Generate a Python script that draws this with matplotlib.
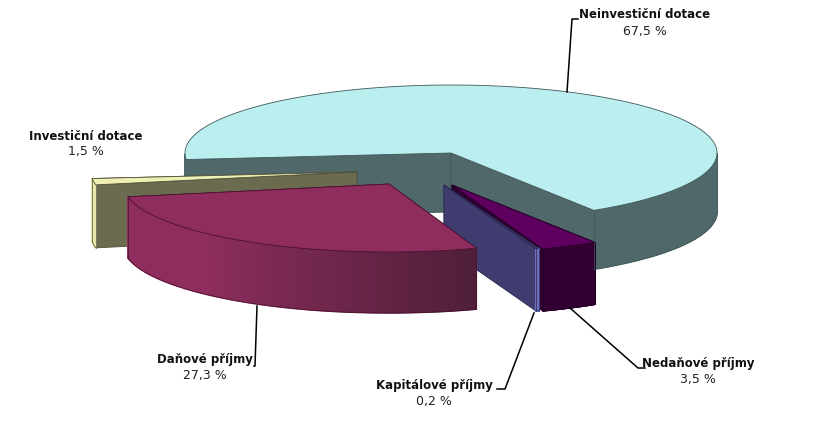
import numpy as np
import matplotlib
matplotlib.use("Agg")
import matplotlib.pyplot as plt
from matplotlib.patches import Polygon

# Data
labels = ["Neinvestiční dotace", "Nedaňové příjmy", "Kapitálové příjmy", "Daňové příjmy", "Investiční dotace"]
values = [67.5, 3.5, 0.2, 27.3, 1.5]
value_texts = ["67,5 %", "3,5 %", "0,2 %", "27,3 %", "1,5 %"]

# Pie layout (pixels)
cx, cy = 451, 153
rx, ry = 266, 68
start_angle = 185.5
offsets = [(0, 0), (1, 32), (-7, 32), (-62, 31), (-94, 19)]
depths = [59, 62, 62, 61, 63]
twists = [0, 0, 1.0, 0, 0]
draw_order = [0, 4, 1, 2, 3]

# Colours
top_colors = ["#bbeeee", "#5f0060", "#3f3d70", "#8f2e5e", "#efeeb4"]
face_colors = ["#50686a", "#2e0033", "#3f3d70", "#8f2e5e", "#6b6b50"]
rim_right = ["#50686a", "#330033", "#6f6fc0", "#4f1f38", "#e8e6a8"]
rim_left = ["#50686a", "#330033", "#6f6fc0", "#8f2e5e", "#e8e6a8"]
edge_colors = ["#40585a", "#200020", "#2a2850", "#4a1030", "#505038"]

# Labels and leader lines (pixels)
label_pos = [(645, 15), (698, 364), (434, 386), (205, 360), (86, 136)]
leaders = [
    [(567, 92), (572, 19), (578, 19)],
    [(570, 308), (638, 368), (645, 368)],
    [(534, 313), (505, 389), (497, 389)],
    [(257, 306), (255, 366), (254, 366)],
    None,
]

fig = plt.figure(figsize=(8.26, 4.38), dpi=100)
ax = fig.add_axes([0, 0, 1, 1])
ax.set_xlim(0, 826)
ax.set_ylim(438, 0)
ax.axis("off")


def mix(c1, c2, f):
    a = np.array(matplotlib.colors.to_rgb(c1))
    b = np.array(matplotlib.colors.to_rgb(c2))
    return tuple(a + (b - a) * f)


# Angles come from the values, going clockwise
sweeps = np.array(values) / sum(values) * 360
ends = start_angle - np.cumsum(sweeps)
starts = ends + sweeps

for i in draw_order:
    ax0 = cx + offsets[i][0]
    ay0 = cy + offsets[i][1]
    d = depths[i]
    edge = edge_colors[i]
    t = np.radians(np.linspace(starts[i], ends[i], 200) + twists[i])
    x = ax0 + rx * np.cos(t)
    y = ay0 - ry * np.sin(t)

    # Radial side faces, the one nearer the viewer last
    for k in sorted((0, -1), key=lambda n: y[n]):
        side = [(ax0, ay0), (x[k], y[k]), (x[k], y[k] + d), (ax0, ay0 + d)]
        ax.add_patch(Polygon(side, closed=True, fc=face_colors[i], ec=edge, lw=0.6))

    # Outer rim, only the part that faces the viewer, dark on the right
    front = np.sin(t) <= 0
    for j in range(len(t) - 1):
        if front[j] and front[j + 1]:
            f = min(1.0, j / (len(t) - 2) / 0.65)
            c = mix(rim_right[i], rim_left[i], f)
            strip = [(x[j], y[j]), (x[j + 1], y[j + 1]), (x[j + 1], y[j + 1] + d), (x[j], y[j] + d)]
            ax.add_patch(Polygon(strip, closed=True, fc=c, ec=c, lw=1.0))
    xf = x[front]
    yf = y[front]
    keep = xf > cx - rx + 3 if i == 0 else np.ones(len(xf), bool)
    ax.plot(xf[keep], yf[keep] + d, color=edge, lw=0.5)
    ax.plot([xf[keep][0]] * 2, [yf[keep][0], yf[keep][0] + d], color=edge, lw=0.5)
    ax.plot([xf[keep][-1]] * 2, [yf[keep][-1], yf[keep][-1] + d], color=edge, lw=0.5)

    # Top face
    pts = [(ax0, ay0)] + list(zip(x, y))
    ax.add_patch(Polygon(pts, closed=True, fc=top_colors[i], ec=edge, lw=0.6))

# Leader lines
for line in leaders:
    if line is not None:
        ax.plot([p[0] for p in line], [p[1] for p in line], color="black", lw=1.1)

# Labels
for name, val, pos in zip(labels, value_texts, label_pos):
    ax.text(pos[0], pos[1], name, ha="center", va="center", fontsize=8.5,
            fontweight="bold", family="DejaVu Sans", color="#111111")
    ax.text(pos[0], pos[1] + 16, val, ha="center", va="center", fontsize=9,
            family="DejaVu Sans", color="#222222")

fig.savefig("out.png", dpi=100, facecolor="white")
